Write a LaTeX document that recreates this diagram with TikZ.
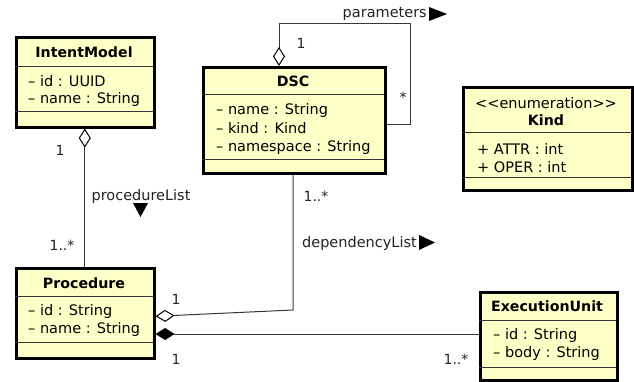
\documentclass[tikz,border=0pt]{standalone}
\usepackage{fontspec}
\setmainfont{DejaVu Sans}
\usetikzlibrary{arrows.meta,calc}
\definecolor{classfill}{RGB}{255,255,200}
\definecolor{linegray}{RGB}{55,55,55}
\definecolor{labelgray}{RGB}{35,35,35}
\tikzset{
  classbox/.style={draw=black, line width=2.6pt, fill=classfill, inner sep=0pt, anchor=north west},
  divider/.style={draw=black!80, line width=0.8pt},
  ctitle/.style={font=\fontsize{14.2}{15}\selectfont\bfseries, inner sep=0pt},
  cattr/.style={font=\fontsize{14.5}{15}\selectfont, inner sep=0pt, anchor=west},
  mult/.style={font=\fontsize{14}{15}\selectfont, text=labelgray, inner sep=0pt},
  rolelabel/.style={font=\fontsize{14.5}{15}\selectfont, text=labelgray, inner sep=0pt},
  assoc/.style={draw=linegray, line width=1pt},
  aggr/.style={assoc, {Diamond[open, fill=white, color=black, length=19pt, width=12pt, line width=1pt]}-},
  comp/.style={assoc, {Diamond[color=black, length=19pt, width=12pt]}-},
  dirmark/.style={fill=black, draw=none}
}
\begin{document}
\begin{tikzpicture}[x=1pt, y=-1pt]
\useasboundingbox (0,0) rectangle (634,381);

% ---- IntentModel ----
\node[classbox, minimum width=138pt, minimum height=90pt] (im) at (15,36) {};
\draw[divider] (15,66) -- (153,66);
\draw[divider] (15,111) -- (153,111);
\node[ctitle] (imT) at (84,52) {IntentModel};
\node[cattr] (imA1) at (28,81) {– id : UUID};
\node[cattr] (imA2) at (28,99) {– name : String};

% ---- DSC ----
\node[classbox, minimum width=182pt, minimum height=106pt] (dsc) at (202,66) {};
\draw[divider] (202,94) -- (384,94);
\draw[divider] (202,159) -- (384,159);
\node[ctitle] (dscT) at (293,81) {DSC};
\node[cattr] (dscA1) at (216,110) {– name : String};
\node[cattr] (dscA2) at (216,128) {– kind : Kind};
\node[cattr] (dscA3) at (216,147) {– namespace : String};

% ---- Kind ----
\node[classbox, minimum width=169pt, minimum height=103pt] (kind) at (462,86) {};
\draw[divider] (462,132) -- (631,132);
\draw[divider] (462,177) -- (631,177);
\node[font=\fontsize{14.5}{15}\selectfont, inner sep=0pt] (kindS) at (546,103) {<{}<enumeration>{}>};
\node[ctitle] (kindT) at (546,120) {Kind};
\node[cattr] (kindA1) at (477,149) {+ ATTR : int};
\node[cattr] (kindA2) at (477,167) {+ OPER : int};

% ---- Procedure ----
\node[classbox, minimum width=138pt, minimum height=90pt] (proc) at (15,267) {};
\draw[divider] (15,296) -- (153,296);
\draw[divider] (15,342) -- (153,342);
\node[ctitle] (procT) at (84,283) {Procedure};
\node[cattr] (procA1) at (28,311) {– id : String};
\node[cattr] (procA2) at (28,329) {– name : String};

% ---- ExecutionUnit ----
\node[classbox, minimum width=137pt, minimum height=88pt] (eu) at (479,291) {};
\draw[divider] (479,320) -- (616,320);
\draw[divider] (479,367) -- (616,367);
\node[ctitle] (euT) at (547,306) {ExecutionUnit};
\node[cattr] (euA1) at (493,335) {– id : String};
\node[cattr] (euA2) at (493,353) {– body : String};

% ---- IntentModel <>-- Procedure : procedureList ----
\draw[aggr] ([xshift=-0.5pt]im.south) -- ([xshift=-0.5pt]proc.north);
\node[mult] (m1) at (60,150) {1};
\node[mult] (m2) at (62,245) {1..*};
\node[rolelabel] (plist) at (141,196) {procedureList};
\fill[dirmark] (133,203) -- (148,203) -- (140.5,217) -- cycle;

% ---- Procedure <>-- DSC : dependencyList ----
\coordinate (depTurn) at (293,310);
\draw[aggr] ([yshift=-3pt]proc.east) -- (depTurn) -- (dsc.south -| depTurn);
\node[mult] (m3) at (176,299) {1};
\node[mult] (m4) at (316,196) {1..*};
\node[rolelabel, anchor=east] (dlist) at (417,243) {dependencyList};
\fill[dirmark] (419,235) -- (435,242.5) -- (419,250) -- cycle;

% ---- Procedure <*>-- ExecutionUnit ----
\draw[comp] (proc.east |- 0,334) -- (eu.west |- 0,334);
\node[mult] (m5) at (176,359) {1};
\node[mult] (m6) at (456,359) {1..*};

% ---- DSC self association : parameters ----
\coordinate (loopTop) at (410,23);
\draw[aggr] ([xshift=77pt]dsc.north west) |- (loopTop) |- ([yshift=-4pt]dsc.east);
\node[mult] (m7) at (301,43) {1};
\node[mult] (m8) at (403,97) {*};
\node[rolelabel, anchor=east] (params) at (427,14) {parameters};
\fill[dirmark] (429,7) -- (447,14) -- (429,21) -- cycle;
\end{tikzpicture}
\end{document}
